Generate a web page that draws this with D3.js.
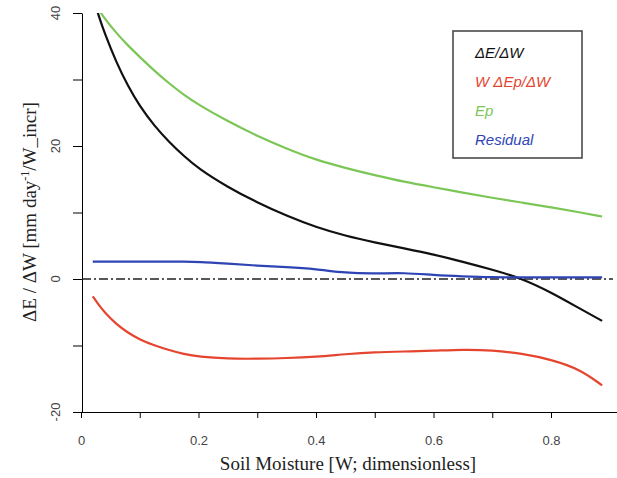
<!DOCTYPE html>
<html lang="en">

<head>
    <meta charset="UTF-8">
    <title>dE/dW vs Soil Moisture</title>
    <script src="https://d3js.org/d3.v7.min.js"></script>
    <style>
        body {
            margin: 0;
            background-color: white;
        }

        .tick-label {
            font-family: "Liberation Sans", Arial, sans-serif;
            font-size: 13px;
            fill: #444;
        }

        .axis-title {
            font-family: "Liberation Serif", "Times New Roman", serif;
            font-size: 19px;
            fill: #222;
        }

        .legend-text {
            font-family: "Liberation Sans", Arial, sans-serif;
            font-size: 15px;
            font-style: italic;
        }
    </style>
</head>

<body>
    <svg id="chart" width="617" height="478"></svg>
    <script>
        // Soil moisture grid (W, dimensionless) shared by all series.
        const moisture = [0.02, 0.03, 0.04, 0.06, 0.08, 0.10, 0.125, 0.15, 0.175, 0.2, 0.25, 0.3, 0.35,
            0.4, 0.45, 0.5, 0.55, 0.6, 0.65, 0.7, 0.75, 0.8, 0.85, 0.887];

        // Series values [mm day-1 / W_incr].
        const dEdW = [42.5, 39.6, 37.0, 32.6, 29.0, 26.0, 23.0, 20.6, 18.5, 16.6, 13.8, 11.5, 9.5,
            7.8, 6.5, 5.5, 4.6, 3.7, 2.6, 1.4, 0.1, -2.0, -4.5, -6.3];
        const wdEpdW = [-2.6, -3.9, -5.0, -6.8, -8.1, -9.1, -10.0, -10.7, -11.3, -11.7, -12.0, -12.0, -11.9,
            -11.7, -11.3, -11.0, -10.9, -10.8, -10.6, -10.7, -11.2, -12.1, -13.6, -16.0];
        const ep = [42.0, 40.5, 39.2, 37.0, 35.1, 33.4, 31.3, 29.4, 27.7, 26.2, 23.7, 21.5, 19.6,
            17.9, 16.7, 15.6, 14.6, 13.8, 13.0, 12.2, 11.5, 10.8, 10.0, 9.4];
        const residual = [2.6, 2.6, 2.6, 2.6, 2.6, 2.6, 2.6, 2.6, 2.6, 2.6, 2.3, 2.0, 1.8,
            1.5, 0.9, 0.8, 0.95, 0.6, 0.4, 0.25, 0.25, 0.25, 0.25, 0.25];

        // Axis ticks.
        const xTicks = [0, 0.1, 0.2, 0.3, 0.4, 0.5, 0.6, 0.7, 0.8];
        const xTickLabels = ["0", "", "0.2", "", "0.4", "", "0.6", "", "0.8"];
        const yTicks = [-20, -10, 0, 10, 20, 30, 40];
        const yTickLabels = ["-20", "", "0", "", "20", "", "40"];

        const seriesNames = ["ΔE/ΔW", "W ΔEp/ΔW", "Ep", "Residual"];
        const seriesValues = [dEdW, wdEpdW, ep, residual];
        const seriesColors = ["#111111", "#e5452f", "#7cc657", "#2e44b5"];

        const svg = d3.select("#chart");

        // Plot region (pixels)
        const plotLeft = 82, plotRight = 617, plotTop = 13, plotBottom = 412;

        const x = d3.scaleLinear()
            .domain([0, 0.8])
            .range([81, 551]);
        const y = d3.scaleLinear()
            .domain([-20, 40])
            .range([plotBottom, plotTop]);

        svg.append("defs").append("clipPath")
            .attr("id", "plot-clip")
            .append("rect")
            .attr("x", plotLeft)
            .attr("y", plotTop)
            .attr("width", plotRight - plotLeft)
            .attr("height", plotBottom - plotTop);

        // X axis (default d3 styling: black 1px)
        const xAxis = svg.append("g")
            .attr("transform", "translate(0," + plotBottom + ")")
            .call(d3.axisBottom(x)
                .tickValues(xTicks)
                .tickFormat((d, i) => xTickLabels[i])
                .tickSize(6)
                .tickPadding(18)
                .tickSizeOuter(0));
        xAxis.select(".domain")
            .attr("d", "M" + (plotLeft - 9) + ",0.5H" + plotRight);
        xAxis.selectAll("text").attr("class", "tick-label");

        // Y axis
        svg.append("g")
            .attr("transform", "translate(" + plotLeft + ",0)")
            .call(d3.axisLeft(y)
                .tickValues(yTicks)
                .tickFormat(() => "")
                .tickSize(9)
                .tickSizeOuter(0));

        // Rotated y tick labels, R style
        svg.append("g")
            .selectAll("text")
            .data(yTicks)
            .join("text")
            .attr("class", "tick-label")
            .attr("text-anchor", "middle")
            .attr("transform", d => "translate(60," + y(d) + ") rotate(-90)")
            .text((d, i) => yTickLabels[i]);

        // Zero reference line
        svg.append("line")
            .attr("x1", plotLeft)
            .attr("x2", 613)
            .attr("y1", y(0))
            .attr("y2", y(0))
            .attr("stroke", "#222")
            .attr("stroke-width", 1.3)
            .attr("stroke-dasharray", "9,3,2,3");

        // Lines
        const line = d3.line()
            .x((d, i) => x(moisture[i]))
            .y(d => y(d))
            .curve(d3.curveBasis);

        svg.append("g")
            .attr("clip-path", "url(#plot-clip)")
            .selectAll("path")
            .data(seriesValues)
            .join("path")
            .attr("d", line)
            .attr("fill", "none")
            .attr("stroke", (d, i) => seriesColors[i])
            .attr("stroke-width", 2.2)
            .attr("stroke-linejoin", "round");

        // Axis titles
        svg.append("text")
            .attr("class", "axis-title")
            .attr("text-anchor", "middle")
            .attr("x", 348)
            .attr("y", 470)
            .text("Soil Moisture [W; dimensionless]");

        const yTitle = svg.append("text")
            .attr("class", "axis-title")
            .attr("text-anchor", "middle")
            .attr("transform", "translate(36,212) rotate(-90)");
        yTitle.append("tspan").text("ΔE / ΔW  [mm day");
        yTitle.append("tspan").attr("dy", -7).attr("font-size", 12).text("-1");
        yTitle.append("tspan").attr("dy", 7).text("/W_incr]");

        // Legend
        svg.append("rect")
            .attr("x", 453)
            .attr("y", 31)
            .attr("width", 129)
            .attr("height", 127)
            .attr("fill", "white")
            .attr("stroke", "#4a4a4a")
            .attr("stroke-width", 1.6);

        svg.append("g")
            .selectAll("text")
            .data(seriesNames)
            .join("text")
            .attr("class", "legend-text")
            .attr("x", 475)
            .attr("y", (d, i) => 58 + i * 29)
            .attr("fill", (d, i) => seriesColors[i])
            .text(d => d);
    </script>
</body>

</html>
